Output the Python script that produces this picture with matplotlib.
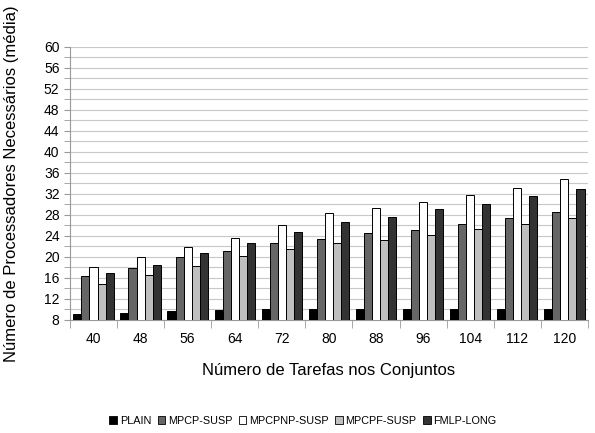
import numpy as np
import matplotlib.pyplot as plt

plt.rcParams['font.family'] = ['Liberation Sans', 'DejaVu Sans']

tarefas = ["40", "48", "56", "64", "72", "80", "88", "96", "104", "112", "120"]
series = ["PLAIN", "MPCP-SUSP", "MPCPNP-SUSP", "MPCPF-SUSP", "FMLP-LONG"]
plain = [9.1, 9.3, 9.7, 9.9, 10.0, 10.1, 10.1, 10.1, 10.1, 10.1, 10.1]
mpcp = [16.4, 17.9, 20.0, 21.1, 22.6, 23.5, 24.6, 25.1, 26.3, 27.4, 28.5]
mpcpnp = [18.1, 20.0, 21.9, 23.6, 26.0, 28.4, 29.4, 30.4, 31.9, 33.2, 34.9]
mpcpf = [14.9, 16.6, 18.3, 20.2, 21.6, 22.6, 23.3, 24.1, 25.3, 26.2, 27.5]
fmlp = [17.0, 18.5, 20.8, 22.6, 24.7, 26.6, 27.6, 29.2, 30.1, 31.7, 32.9]
cores = ["#000000", "#666666", "#ffffff", "#bfbfbf", "#333333"]

fig = plt.figure(figsize=(5.95, 4.33), dpi=100)
ax = fig.add_axes([0.1176, 0.261, 0.8704, 0.6305])

x = np.arange(len(tarefas))
w = 0.172
for i, (vals, nome) in enumerate(zip([plain, mpcp, mpcpnp, mpcpf, fmlp], series)):
    base = 8
    ax.bar(x + (i - 2) * w, np.array(vals) - base, w, bottom=base, color=cores[i],
           edgecolor="black", linewidth=0.7, label=nome, zorder=3)

ax.set_ylim(8, 60)
ax.set_xlim(-0.5, len(tarefas) - 0.5)
ax.set_yticks(range(8, 61, 4))
ax.set_yticks(range(8, 61, 2), minor=True)
ax.grid(axis="y", which="both", color="#c8c8c8", linewidth=0.8, zorder=0)
ax.tick_params(axis="y", which="both", length=4, color="#999999", labelsize=10)
ax.set_xticks(x)
ax.set_xticklabels(tarefas)
ax.set_xticks(np.arange(-0.5, len(tarefas), 1), minor=True)
ax.tick_params(axis="x", which="major", length=0, labelsize=10, pad=9)
ax.tick_params(axis="x", which="minor", length=6, color="#999999")
for s in ["top", "right"]:
    ax.spines[s].set_visible(False)
ax.spines["left"].set_color("#999999")
ax.spines["bottom"].set_color("#999999")

ax.set_xlabel("Número de Tarefas nos Conjuntos", fontsize=12, labelpad=12)
ax.set_ylabel("Número de Processadores Necessários (média)", fontsize=12, labelpad=10)
ax.yaxis.set_label_coords(-0.098, 0.5)

leg = ax.legend(loc="center", bbox_to_anchor=(0.45, -0.37), ncol=5, frameon=False,
                fontsize=7.8, handlelength=0.7, handleheight=0.7, handletextpad=0.25,
                columnspacing=0.6)
for h in leg.legend_handles:
    h.set_linewidth(0.6)

plt.savefig("out.png", dpi=100)
